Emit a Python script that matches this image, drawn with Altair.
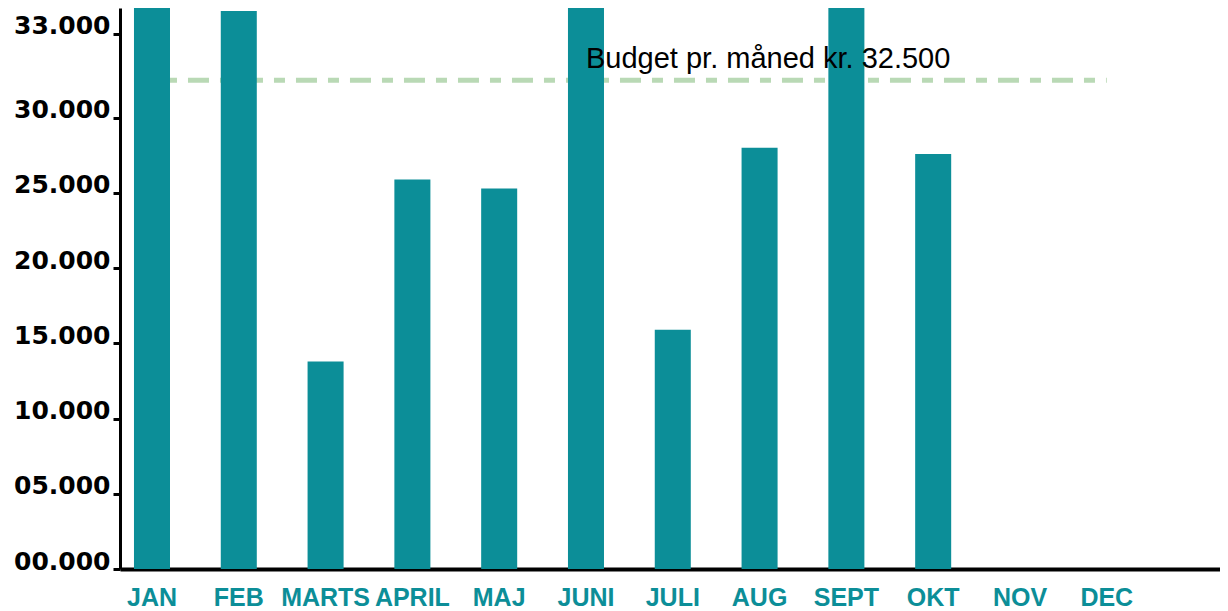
import altair as alt
import pandas as pd

months = ["JAN", "FEB", "MARTS", "APRIL", "MAJ", "JUNI", "JULI", "AUG", "SEPT", "OKT", "NOV", "DEC"]
amounts = [38000, 37100, 13800, 25900, 25300, 38000, 15900, 28000, 38000, 27600, None, None]
budget = 32500
budget_label = "Budget pr. måned kr. 32.500"
tick_values = [0, 5000, 10000, 15000, 20000, 25000, 30000, 35600]
tick_labels = ["00.000", "05.000", "10.000", "15.000", "20.000", "25.000", "30.000", "33.000"]
y_max = 37300

teal = "#0C8E98"

bars_df = pd.DataFrame({"month": months, "amount": amounts}).dropna()
budget_df = pd.DataFrame({"start": [months[0]], "end": [months[-1]], "amount": [budget]})
text_df = pd.DataFrame({"month": ["JUNI"], "amount": [budget], "label": [budget_label]})

label_expr = " : ".join(
    [f"datum.value == {v} ? '{l}'" for v, l in zip(tick_values, tick_labels)]
) + " : ''"

x_scale = alt.Scale(domain=months, paddingInner=0.585, paddingOuter=0.629, align=0.128)
x_axis = alt.Axis(
    title=None, labelAngle=0, ticks=False, domainColor="black", domainWidth=4,
    labelFont="Liberation Sans", labelFontWeight="bold", labelFontSize=25,
    labelColor=teal, labelPadding=16,
)
y_scale = alt.Scale(domain=[0, y_max], nice=False, zero=True)
y_axis = alt.Axis(
    title=None, values=tick_values, labelExpr=label_expr, grid=False,
    domainColor="black", domainWidth=3, tickColor="black", tickWidth=3, tickSize=7,
    labelFont="DejaVu Sans", labelFontWeight="bold", labelFontSize=25,
    labelColor="black", labelPadding=3, labelBaseline="alphabetic",
)

rule = alt.Chart(budget_df).mark_rule(
    color="#B9D9B5", strokeWidth=5, strokeDash=[21, 11, 11, 11]
).encode(
    x=alt.X("start:N", scale=x_scale, axis=x_axis, bandPosition=0),
    x2="end:N",
    y=alt.Y("amount:Q", scale=y_scale, axis=y_axis),
)

bars = alt.Chart(bars_df).mark_bar(color=teal, clip=True).encode(
    x=alt.X("month:N", scale=x_scale, axis=x_axis),
    y=alt.Y("amount:Q", scale=y_scale, axis=y_axis),
)

text = alt.Chart(text_df).mark_text(
    align="left", baseline="alphabetic", dy=-12, dx=0,
    font="Liberation Sans", fontSize=29, color="black",
).encode(
    x=alt.X("month:N", scale=x_scale, axis=x_axis),
    y=alt.Y("amount:Q", scale=y_scale, axis=y_axis),
    text="label:N",
)

chart = alt.layer(rule, bars, text).properties(
    width=1100, height=561,
    autosize=alt.AutoSizeParams(type="none"),
    padding={"left": 112, "top": 0, "right": 0, "bottom": 40},
).configure(background="white").configure_view(stroke=None)

chart.save("out.html", embed_options={"renderer": "svg", "actions": False})
